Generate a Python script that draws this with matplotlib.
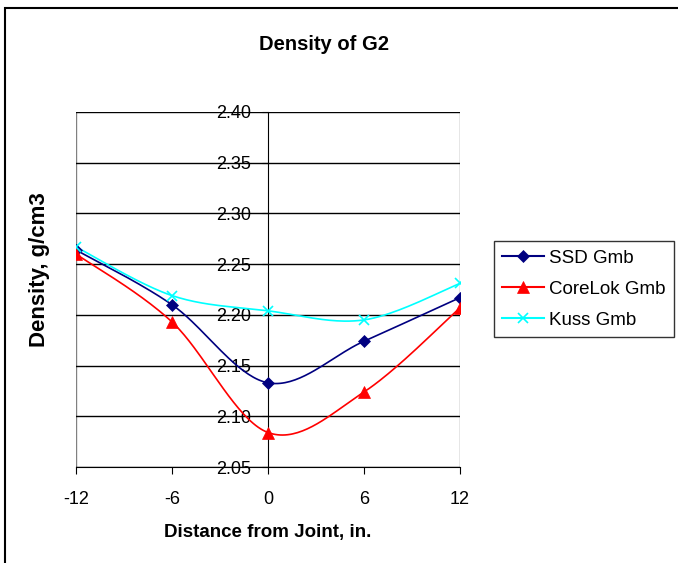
import matplotlib.pyplot as plt
import numpy as np
from matplotlib.patches import Rectangle

plt.rcParams['font.family'] = ['Liberation Sans', 'DejaVu Sans']

distance = [-12, -6, 0, 6, 12]
ssd_gmb = [2.264, 2.210, 2.133, 2.174, 2.217]
corelok_gmb = [2.260, 2.193, 2.084, 2.124, 2.207]
kuss_gmb = [2.267, 2.219, 2.204, 2.195, 2.231]
y_ticks = [2.05, 2.10, 2.15, 2.20, 2.25, 2.30, 2.35, 2.40]


def smooth(x, y, n=40):
    # cubic bezier through the points, catmull-rom style control points
    x = np.asarray(x, float)
    y = np.asarray(y, float)
    px = np.concatenate([[x[0]], x, [x[-1]]])
    py = np.concatenate([[y[0]], y, [y[-1]]])
    t = np.linspace(0, 1, n)
    xs, ys = [], []
    for i in range(1, len(px) - 2):
        p0 = np.array([px[i], py[i]])
        p3 = np.array([px[i + 1], py[i + 1]])
        c1 = p0 + (np.array([px[i + 1], py[i + 1]]) - np.array([px[i - 1], py[i - 1]])) / 6
        c2 = p3 - (np.array([px[i + 2], py[i + 2]]) - np.array([px[i], py[i]])) / 6
        b = ((1 - t) ** 3)[:, None] * p0 + (3 * (1 - t) ** 2 * t)[:, None] * c1 \
            + (3 * (1 - t) * t ** 2)[:, None] * c2 + (t ** 3)[:, None] * p3
        xs.append(b[:, 0])
        ys.append(b[:, 1])
    return np.concatenate(xs), np.concatenate(ys)


fig = plt.figure(figsize=(6.78, 5.63), dpi=100)
fig.patches.append(Rectangle((5 / 678, -0.1), 1.2, 1 - 8 / 563 + 0.1,
                             transform=fig.transFigure, fill=False,
                             edgecolor='black', linewidth=1.5))

ax = fig.add_axes([76 / 678, 1 - 467 / 563, 384 / 678, 355 / 563])
ax.set_xlim(-12, 12)
ax.set_ylim(2.05, 2.40)

for v in y_ticks:
    ax.axhline(v, color='black', linewidth=1.0, zorder=1)

series = [
    (ssd_gmb, 'SSD Gmb', '#000080', 'D', 6.5),
    (corelok_gmb, 'CoreLok Gmb', '#ff0000', '^', 8.5),
    (kuss_gmb, 'Kuss Gmb', '#00ffff', 'x', 6.5),
]
for vals, name, col, mk, ms in series:
    sx, sy = smooth(distance, vals)
    mew = 1.2 if mk == 'x' else 0.5
    ax.plot(sx, sy, color=col, linewidth=1.2, zorder=3)
    ax.plot(distance, vals, linestyle='none', marker=mk, markersize=ms,
            color=col, markeredgewidth=mew, zorder=4)
    ax.plot([], [], color=col, marker=mk, markersize=ms, label=name,
            markeredgewidth=mew)

ax.spines['left'].set_position(('data', 0))
ax.spines['left'].set_color('black')
ax.spines['bottom'].set_color('black')
ax.spines['top'].set_visible(False)
ax.spines['right'].set_visible(False)
for xb in (-12, 12):
    ax.axvline(xb, color='#808080', linewidth=1.0, zorder=0.5)

ax.set_yticks(y_ticks)
ax.set_yticklabels(['%.2f' % v for v in y_ticks], fontsize=13)
ax.set_xticks(distance)
ax.set_xticklabels([str(d) for d in distance], fontsize=13)
ax.tick_params(axis='y', direction='out', length=4, pad=8.5)
ax.tick_params(axis='x', direction='out', length=5, pad=12)

fig.text(268 / 678, 1 - 532 / 563, 'Distance from Joint, in.', fontsize=13.5,
         fontweight='bold', ha='center', va='center')
fig.text(40 / 678, 1 - 270 / 563, 'Density, g/cm3', rotation=90, fontsize=16,
         fontweight='bold', ha='center', va='center')
fig.text(324 / 678, 1 - 44 / 563, 'Density of G2', fontsize=14.5,
         fontweight='bold', ha='center', va='center')

leg = fig.legend(loc='upper left', bbox_to_anchor=(494 / 678, 1 - 241 / 563),
                 fontsize=13.5, frameon=True, fancybox=False, edgecolor='black',
                 handlelength=2.2, borderpad=0.45, labelspacing=0.75,
                 handletextpad=0.3, borderaxespad=0)
leg.get_frame().set_linewidth(1.0)

fig.savefig('out.png', dpi=100)
